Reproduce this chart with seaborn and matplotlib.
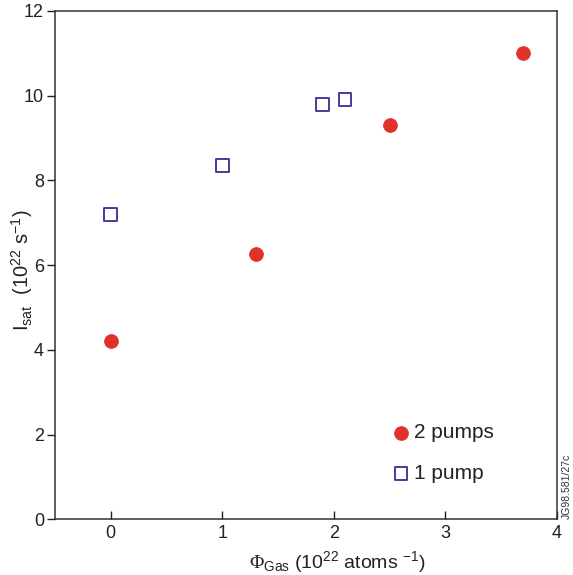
import matplotlib
matplotlib.use("Agg")
import matplotlib.pyplot as plt
import seaborn as sns
import pandas as pd

# Data
pumps2_x = [0.0, 1.3, 2.5, 3.7]
pumps2_y = [4.2, 6.25, 9.3, 11.0]
pumps1_x = [0.0, 1.0, 1.9, 2.1]
pumps1_y = [7.2, 8.35, 9.8, 9.9]
series_labels = ["2 pumps", "1 pump"]
x_ticks = [0, 1, 2, 3, 4]
y_ticks = [0, 2, 4, 6, 8, 10, 12]

sns.set_style("ticks")
plt.rcParams['font.family'] = ['Liberation Sans', 'DejaVu Sans']
plt.rcParams['mathtext.fontset'] = 'custom'
plt.rcParams['mathtext.rm'] = 'Liberation Sans'
plt.rcParams['mathtext.it'] = 'Liberation Sans'
plt.rcParams['mathtext.cal'] = 'Liberation Serif'

df2 = pd.DataFrame({"x": pumps2_x, "y": pumps2_y, "series": series_labels[0]})
df1 = pd.DataFrame({"x": pumps1_x, "y": pumps1_y, "series": series_labels[1]})

fig, ax = plt.subplots(figsize=(5.73, 5.75), dpi=100)
fig.subplots_adjust(left=0.096, right=0.972, bottom=0.097, top=0.981)

sns.scatterplot(data=df2, x="x", y="y", ax=ax, marker="o", s=100,
                color="#E0312A", edgecolor="#E0312A", linewidth=0.5,
                label=series_labels[0], zorder=3)
sns.scatterplot(data=df1, x="x", y="y", ax=ax, marker="s", s=85,
                facecolor="none", edgecolor="#4B3A9A", linewidth=1.4,
                label=series_labels[1], zorder=3)

ax.set_xlim(-0.5, 4.0)
ax.set_ylim(0, 12)
ax.set_xticks(x_ticks)
ax.set_yticks(y_ticks)
ax.tick_params(axis="x", direction="in", length=6, width=1.0, labelsize=13, colors="#222222", pad=4)
ax.tick_params(axis="y", direction="out", length=6, width=1.0, labelsize=13, colors="#222222", pad=2)
for sp in ax.spines.values():
    sp.set_visible(True)
    sp.set_linewidth(1.1)
    sp.set_color("#333333")

ax.set_xlabel(r"$\mathcal{\Phi}_{\mathrm{Gas}}$ (10$^{22}$ atoms $^{-1}$)", fontsize=14, color="#222222")
ax.set_ylabel(r"I$_{\mathrm{sat}}$  (10$^{22}$ s$^{-1}$)", fontsize=14.5, color="#222222")
ax.xaxis.set_label_coords(0.562, -0.058, transform=ax.transAxes)
ax.yaxis.set_label_coords(-0.066, 0.49, transform=ax.transAxes)
ax.xaxis.label.set_va("top")
ax.yaxis.label.set_va("center")

leg = ax.legend(loc="lower left", bbox_to_anchor=(0.652, 0.055), frameon=False,
                fontsize=15, handlelength=1.0, handletextpad=0.1, labelspacing=1.05,
                borderaxespad=0, markerscale=1.0)
for t in leg.get_texts():
    t.set_color("#222222")

fig.text(0.99, 0.097, "JG98.581/27c", rotation=90, fontsize=7.5, color="#333333",
         ha="center", va="bottom")

fig.savefig("out.png", dpi=100)
